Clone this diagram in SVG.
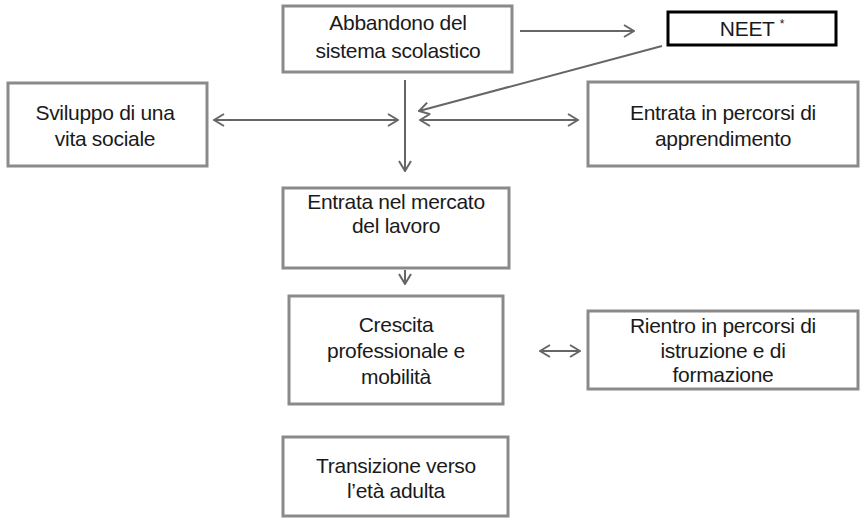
<svg xmlns="http://www.w3.org/2000/svg" width="864" height="518" viewBox="0 0 864 518">
<defs>
<style>
.box{fill:#fff;stroke:#8a8a8a;stroke-width:3}
.neet{fill:#fff;stroke:#000;stroke-width:3}
.t{font-family:"Liberation Sans",Arial,sans-serif;font-size:21px;fill:#1a1a1a;text-anchor:middle;letter-spacing:-0.3px}
.c{stroke:#666;stroke-width:2;fill:none}
</style>
<marker id="ah" viewBox="0 0 12 14" refX="11" refY="7" markerWidth="12" markerHeight="14" markerUnits="userSpaceOnUse" orient="auto-start-reverse">
<path d="M1,1 L11,7 L1,13" fill="none" stroke="#666" stroke-width="2"/>
</marker>
</defs>
<rect width="864" height="518" fill="#fff"/>
<g id="connectors">
<line class="c" x1="520" y1="31" x2="634" y2="31" marker-end="url(#ah)"/>
<line class="c" x1="662" y1="46" x2="419" y2="111" marker-end="url(#ah)"/>
<line class="c" x1="405" y1="80" x2="405" y2="171" marker-end="url(#ah)"/>
<line class="c" x1="214" y1="120" x2="398" y2="120" marker-start="url(#ah)" marker-end="url(#ah)"/>
<line class="c" x1="420" y1="120" x2="578" y2="120" marker-start="url(#ah)" marker-end="url(#ah)"/>
<line class="c" x1="405" y1="270" x2="405" y2="284" marker-end="url(#ah)"/>
<line class="c" x1="540" y1="351" x2="580" y2="351" marker-start="url(#ah)" marker-end="url(#ah)"/>
</g>
<g id="abbandono">
<rect class="box" x="283" y="6" width="229" height="66"/>
<text class="t" x="398" y="30">Abbandono del</text>
<text class="t" x="398" y="58">sistema scolastico</text>
</g>
<g id="neet">
<rect class="neet" x="668" y="12" width="168" height="33"/>
<text class="t" x="752" y="36">NEET <tspan font-size="12" dy="-8">*</tspan></text>
</g>
<g id="sviluppo">
<rect class="box" x="8" y="83" width="199" height="83"/>
<text class="t" x="105" y="120">Sviluppo di una</text>
<text class="t" x="105" y="146">vita sociale</text>
</g>
<g id="apprendimento">
<rect class="box" x="588" y="82" width="270" height="84"/>
<text class="t" x="723" y="120">Entrata in percorsi di</text>
<text class="t" x="723" y="146">apprendimento</text>
</g>
<g id="mercato">
<rect class="box" x="283" y="188" width="226" height="80"/>
<text class="t" x="396" y="209">Entrata nel mercato</text>
<text class="t" x="396" y="233">del lavoro</text>
</g>
<g id="crescita">
<rect class="box" x="289" y="296" width="214" height="108"/>
<text class="t" x="396" y="332">Crescita</text>
<text class="t" x="396" y="358">professionale e</text>
<text class="t" x="396" y="384">mobilità</text>
</g>
<g id="rientro">
<rect class="box" x="588" y="311" width="270" height="78"/>
<text class="t" x="723" y="333">Rientro in percorsi di</text>
<text class="t" x="723" y="358">istruzione e di</text>
<text class="t" x="723" y="382">formazione</text>
</g>
<g id="transizione">
<rect class="box" x="283" y="437" width="225" height="79"/>
<text class="t" x="396" y="473">Transizione verso</text>
<text class="t" x="396" y="498">l’età adulta</text>
</g>
</svg>
